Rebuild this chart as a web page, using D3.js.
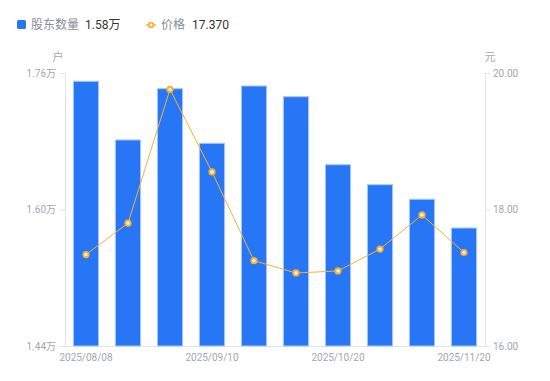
<!DOCTYPE html>
<html>
<head>
<meta charset="utf-8">
<script src="https://cdn.jsdelivr.net/npm/d3@7/dist/d3.min.js"></script>
<style>
  html, body { margin: 0; padding: 0; background: #fff; }
  svg { display: block; font-family: "Noto Sans CJK SC", "Noto Sans", sans-serif; }
</style>
</head>
<body>
<svg id="chart" width="550" height="381"></svg>
<script>
// data
const dates = ["2025/08/08", "2025/08/20", "2025/08/31", "2025/09/10", "2025/09/19",
  "2025/09/30", "2025/10/20", "2025/10/31", "2025/11/10", "2025/11/20"];
const holders = [17503, 16815, 17416, 16776, 17448, 17322, 16525, 16291, 16120, 15783];
const prices = [17.34, 17.80, 19.76, 18.55, 17.25, 17.07, 17.10, 17.42, 17.92, 17.37];
const shownDates = ["2025/08/08", "2025/09/10", "2025/10/20", "2025/11/20"];
const leftTicks = [14400, 16000, 17600];
const rightTicks = [16, 18, 20];

const svg = d3.select("#chart");
const margin = { left: 65, right: 65, top: 73, bottom: 35 };
const width = 550, height = 381;
const barColor = "#2776f5";
const lineColor = "#f8b133";
const axisColor = "#e3e3e6";
const textColor = "#a3a5b3";

const x = d3.scaleBand()
  .domain(dates)
  .range([margin.left, width - margin.right])
  .paddingInner(0.4)
  .paddingOuter(0.2);

const yLeft = d3.scaleLinear()
  .domain([14400, 17600])
  .range([height - margin.bottom, margin.top]);

const yRight = d3.scaleLinear()
  .domain([16, 20])
  .range([height - margin.bottom, margin.top]);

const baseY = height - margin.bottom;

// axes
const leftAxis = svg.append("g")
  .attr("transform", `translate(${margin.left},0)`)
  .call(d3.axisLeft(yLeft).tickValues(leftTicks).tickSize(5).tickPadding(4)
    .tickFormat(d => (d / 10000).toFixed(2) + "万"));

const rightAxis = svg.append("g")
  .attr("transform", `translate(${width - margin.right},0)`)
  .call(d3.axisRight(yRight).tickValues(rightTicks).tickSize(5).tickPadding(3)
    .tickFormat(d => d.toFixed(2)));

[leftAxis, rightAxis].forEach(g => {
  g.select(".domain").attr("stroke", axisColor);
  g.selectAll(".tick line").attr("stroke", axisColor);
  g.selectAll(".tick text")
    .attr("fill", textColor)
    .style("font-size", "10px")
    .style("font-family", "Roboto, 'Noto Sans CJK SC', sans-serif");
});

const bottomAxis = svg.append("g")
  .attr("transform", `translate(0,${baseY})`)
  .call(d3.axisBottom(x).tickValues(shownDates).tickSize(0).tickPadding(8));
bottomAxis.select(".domain").attr("stroke", axisColor);
bottomAxis.selectAll(".tick text")
  .attr("fill", textColor)
  .style("font-size", "10px")
  .style("font-family", "Roboto, sans-serif");

// unit labels
svg.append("text")
  .attr("x", 58).attr("y", 61)
  .attr("text-anchor", "middle")
  .attr("fill", textColor)
  .style("font-size", "11px")
  .text("户");

svg.append("text")
  .attr("x", 490).attr("y", 61)
  .attr("text-anchor", "middle")
  .attr("fill", textColor)
  .style("font-size", "11px")
  .text("元");

// bars
svg.append("g")
  .selectAll("rect")
  .data(dates)
  .join("rect")
  .attr("x", d => x(d))
  .attr("width", x.bandwidth())
  .attr("y", (d, i) => yLeft(holders[i]))
  .attr("height", (d, i) => baseY - yLeft(holders[i]))
  .attr("fill", barColor)
  .attr("stroke", "#a9c7fb")
  .attr("stroke-width", 1);

// price line
const cx = d => x(d) + x.bandwidth() / 2;
const line = d3.line()
  .x((d, i) => cx(dates[i]))
  .y(d => yRight(d));

svg.append("path")
  .datum(prices)
  .attr("fill", "none")
  .attr("stroke", lineColor)
  .attr("stroke-width", 1)
  .attr("d", line);

svg.append("g")
  .selectAll("circle")
  .data(prices)
  .join("circle")
  .attr("cx", (d, i) => cx(dates[i]))
  .attr("cy", d => yRight(d))
  .attr("r", 2.6)
  .attr("fill", "#fff")
  .attr("stroke", lineColor)
  .attr("stroke-width", 2);

// legend
const legend = svg.append("g");
legend.append("rect")
  .attr("x", 17).attr("y", 20)
  .attr("width", 9).attr("height", 9)
  .attr("rx", 1.5)
  .attr("fill", barColor);
legend.append("text")
  .attr("x", 31).attr("y", 29)
  .attr("fill", "#8a8c99")
  .style("font-size", "12px")
  .text("股东数量");
legend.append("text")
  .attr("x", 85).attr("y", 29)
  .attr("fill", "#333")
  .style("font-size", "12px")
  .style("font-family", "Roboto, 'Noto Sans CJK SC', sans-serif")
  .text((holders[holders.length - 1] / 10000).toFixed(2) + "万");

legend.append("line")
  .attr("x1", 146).attr("x2", 156)
  .attr("y1", 25).attr("y2", 25)
  .attr("stroke", lineColor)
  .attr("stroke-width", 1.5);
legend.append("circle")
  .attr("cx", 151).attr("cy", 25)
  .attr("r", 2.3)
  .attr("fill", "#fff")
  .attr("stroke", lineColor)
  .attr("stroke-width", 1.8);
legend.append("text")
  .attr("x", 161).attr("y", 29)
  .attr("fill", "#8a8c99")
  .style("font-size", "12px")
  .text("价格");
legend.append("text")
  .attr("x", 192).attr("y", 29)
  .attr("fill", "#333")
  .style("font-size", "12px")
  .style("font-family", "Roboto, sans-serif")
  .text(prices[prices.length - 1].toFixed(3));
</script>
</body>
</html>
